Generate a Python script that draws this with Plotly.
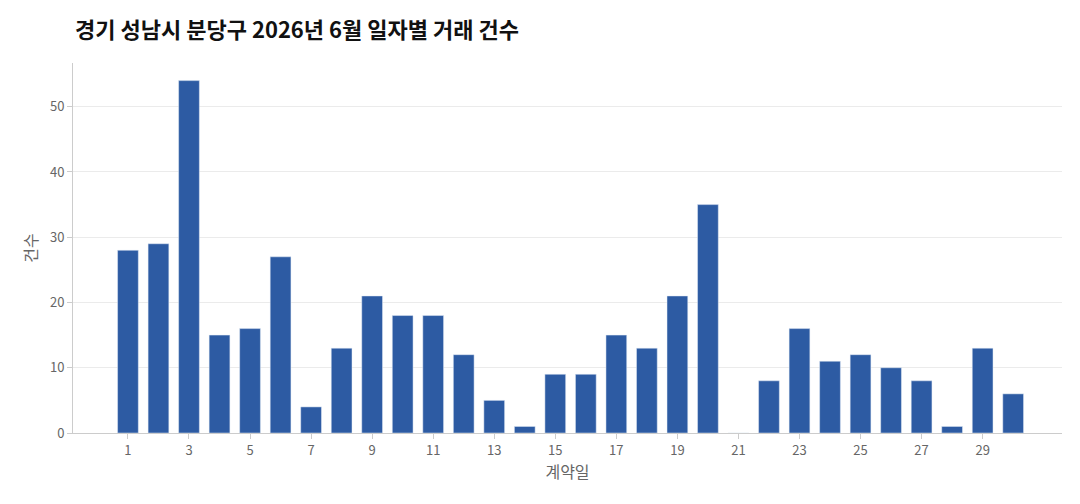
import plotly.graph_objects as go

days = list(range(1, 31))
counts = [28, 29, 54, 15, 16, 27, 4, 13, 21, 18, 18, 12, 5, 1, 9, 9, 15, 13, 21, 35,
          0, 8, 16, 11, 12, 10, 8, 1, 13, 6]
tick_vals = list(range(1, 31, 2))

fig = go.Figure()
fig.add_trace(go.Bar(x=days, y=counts, marker_color='#2d5ba3', width=0.68))

# page has an 8px body margin, so the figure is drawn a bit smaller
fig.update_layout(
    title=dict(text='<b>경기 성남시 분당구 2026년 6월 일자별 거래 건수</b>',
               x=0.063, xanchor='left', y=0.955, yanchor='middle',
               font=dict(size=22, color='#111', family='Noto Sans CJK KR')),
    width=1064, height=488,
    margin=dict(l=65, r=10, t=55, b=63),
    plot_bgcolor='white', paper_bgcolor='white',
    font=dict(family='Noto Sans CJK KR', color='#666', size=13),
    showlegend=False,
)
fig.update_xaxes(title_text='계약일', tickvals=tick_vals, range=[-0.8, 31.6],
                 showgrid=False, showline=True, linecolor='#ccc', ticks='outside',
                 tickcolor='#ccc', ticklen=5, title_standoff=6)
fig.update_yaxes(title_text='건수', range=[0, 56.7], dtick=10, gridcolor='#ebebeb',
                 showline=True, linecolor='#ccc', ticks='outside', tickcolor='#ccc',
                 ticklen=5, zeroline=False, title_standoff=8)

fig.write_html("out.html")
